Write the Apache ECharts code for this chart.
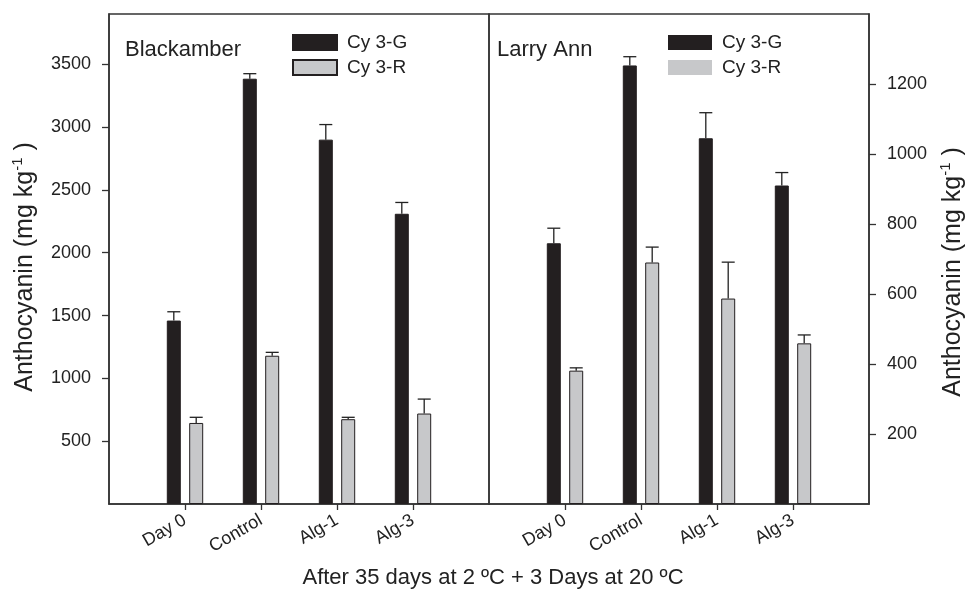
<!DOCTYPE html>
<html>
<head>
<meta charset="utf-8">
<script src="https://cdn.jsdelivr.net/npm/echarts@6/dist/echarts.min.js"></script>
<style>
  html, body { margin: 0; padding: 0; background: #fff; }
  #chart { width: 966px; height: 589px; }
</style>
</head>
<body>
<div id="chart"></div>
<script>
// Anthocyanin content per treatment (mg kg-1), mean and upper error
const treatments = ['Day 0', 'Control', 'Alg-1', 'Alg-3'];

const blackamberCy3G    = [1460, 3385, 2900, 2310];
const blackamberCy3GErr = [70, 40, 120, 90];
const blackamberCy3R    = [645, 1180, 675, 720];
const blackamberCy3RErr = [45, 27, 15, 115];

const larryAnnCy3G    = [745, 1253, 1045, 910];
const larryAnnCy3GErr = [43, 25, 73, 37];
const larryAnnCy3R    = [381, 690, 587, 459];
const larryAnnCy3RErr = [8, 44, 104, 24];

const blackamberTicks = [500, 1000, 1500, 2000, 2500, 3000, 3500];
const larryAnnTicks   = [200, 400, 600, 800, 1000, 1200];
const blackamberMax = 3900;
const larryAnnMax   = 1400;

const FONT = '"Liberation Sans", Arial, Helvetica, sans-serif';
const DARK = '#231f20';
const GREY = '#c7c8ca';
const INK = '#222';
const BAR_W = 14;
const BAR_GAP = 0.6;
const HALF_PAIR = BAR_W * (1 + BAR_GAP) / 2;

// each panel has an empty slot at both ends so the treatments sit on inner ticks
const slots = [''].concat(treatments, ['']);
const pad = arr => ['-'].concat(arr, ['-']);

function barSeries(name, values, color, axis) {
  return {
    name: name,
    type: 'bar',
    xAxisIndex: axis,
    yAxisIndex: axis,
    data: pad(values),
    barWidth: BAR_W,
    barGap: (BAR_GAP * 100) + '%',
    itemStyle: { color: color, borderColor: DARK, borderWidth: 1 },
    silent: true,
    z: 3
  };
}

function errSeries(values, errs, axis, dx) {
  return {
    type: 'custom',
    xAxisIndex: axis,
    yAxisIndex: axis,
    silent: true,
    z: 5,
    encode: { x: 0, y: 1 },
    data: values.map((v, i) => [i + 1, v, errs[i]]),
    renderItem: function (params, api) {
      const base = api.coord([api.value(0), api.value(1)]);
      const top = api.coord([api.value(0), api.value(1) + api.value(2)]);
      const x = base[0] + dx;
      const cap = BAR_W / 2 - 0.5;
      const st = { stroke: INK, lineWidth: 1.3 };
      return {
        type: 'group',
        children: [
          { type: 'line', shape: { x1: x, y1: base[1], x2: x, y2: top[1] }, style: st },
          { type: 'line', shape: { x1: x - cap, y1: top[1], x2: x + cap, y2: top[1] }, style: st }
        ]
      };
    }
  };
}

function xAxis(idx) {
  return {
    type: 'category',
    gridIndex: idx,
    data: slots,
    boundaryGap: false,
    axisLine: { show: true, lineStyle: { color: '#333', width: 1.5 } },
    axisTick: {
      show: true, length: 6, inside: false,
      interval: (i) => i > 0 && i < slots.length - 1,
      lineStyle: { color: '#333', width: 1.3 }
    },
    axisLabel: {
      interval: 0, rotate: 30, margin: 15,
      fontFamily: FONT, fontSize: 18, color: INK
    },
    splitLine: { show: false }
  };
}

function yAxis(idx, pos, max, ticks) {
  return {
    type: 'value',
    gridIndex: idx,
    position: pos,
    min: 0,
    max: max,
    axisLine: { show: true, lineStyle: { color: '#333', width: 1.5 } },
    axisTick: {
      show: true, length: 7, inside: false,
      customValues: ticks,
      lineStyle: { color: '#333', width: 1.3 }
    },
    axisLabel: {
      customValues: ticks,
      formatter: (v) => String(v),
      margin: 18,
      fontFamily: FONT, fontSize: 18, color: INK
    },
    splitLine: { show: false }
  };
}

const yTitle = {
  text: '{a|Anthocyanin (mg kg}{s|-1}{a| )}',
  rich: {
    a: { fontFamily: FONT, fontSize: 25, lineHeight: 30, fill: INK, color: INK },
    s: { fontFamily: FONT, fontSize: 15, lineHeight: 28, verticalAlign: 'top', fill: INK, color: INK }
  },
  align: 'center',
  verticalAlign: 'middle'
};

const legendBase = {
  data: ['Cy 3-G', 'Cy 3-R'],
  orient: 'vertical',
  top: 33,
  padding: 0,
  icon: 'rect',
  itemWidth: 44,
  itemHeight: 15,
  itemGap: 6,
  selectedMode: false,
  textStyle: { fontFamily: FONT, fontSize: 19, color: INK, lineHeight: 18, padding: [0, 0, 0, 5] }
};

const chart = echarts.init(document.getElementById('chart'), null, { renderer: 'canvas' });

chart.setOption({
  animation: false,
  backgroundColor: '#fff',
  grid: [
    { left: 109, top: 14, width: 380, height: 490, show: true, borderColor: '#333', borderWidth: 1.5, backgroundColor: 'transparent' },
    { left: 489, top: 14, width: 380, height: 490, show: true, borderColor: '#333', borderWidth: 1.5, backgroundColor: 'transparent' }
  ],
  xAxis: [xAxis(0), xAxis(1)],
  yAxis: [
    yAxis(0, 'left', blackamberMax, blackamberTicks),
    yAxis(1, 'right', larryAnnMax, larryAnnTicks)
  ],
  legend: [
    Object.assign({}, legendBase, { left: 292 }),
    Object.assign({}, legendBase, { left: 668, itemStyle: { borderWidth: 0 } })
  ],
  series: [
    barSeries('Cy 3-G', blackamberCy3G, DARK, 0),
    barSeries('Cy 3-R', blackamberCy3R, GREY, 0),
    barSeries('Cy 3-G', larryAnnCy3G, DARK, 1),
    barSeries('Cy 3-R', larryAnnCy3R, GREY, 1),
    errSeries(blackamberCy3G, blackamberCy3GErr, 0, -HALF_PAIR),
    errSeries(blackamberCy3R, blackamberCy3RErr, 0, HALF_PAIR),
    errSeries(larryAnnCy3G, larryAnnCy3GErr, 1, -HALF_PAIR),
    errSeries(larryAnnCy3R, larryAnnCy3RErr, 1, HALF_PAIR)
  ],
  graphic: [
    { type: 'text', x: 125, y: 50, style: { text: 'Blackamber', font: '22px ' + FONT, fill: INK, verticalAlign: 'middle' } },
    { type: 'text', x: 497, y: 50, style: { text: 'Larry Ann', font: '22px ' + FONT, fill: INK, verticalAlign: 'middle' } },
    { type: 'text', x: 493, y: 578, style: { text: 'After 35 days at 2 ºC + 3 Days at 20 ºC', font: '22px ' + FONT, fill: INK, align: 'center', verticalAlign: 'middle' } },
    { type: 'text', x: 25, y: 267, rotation: Math.PI / 2, style: Object.assign({}, yTitle) },
    { type: 'text', x: 953, y: 272, rotation: Math.PI / 2, style: Object.assign({}, yTitle) }
  ]
});
</script>
</body>
</html>
